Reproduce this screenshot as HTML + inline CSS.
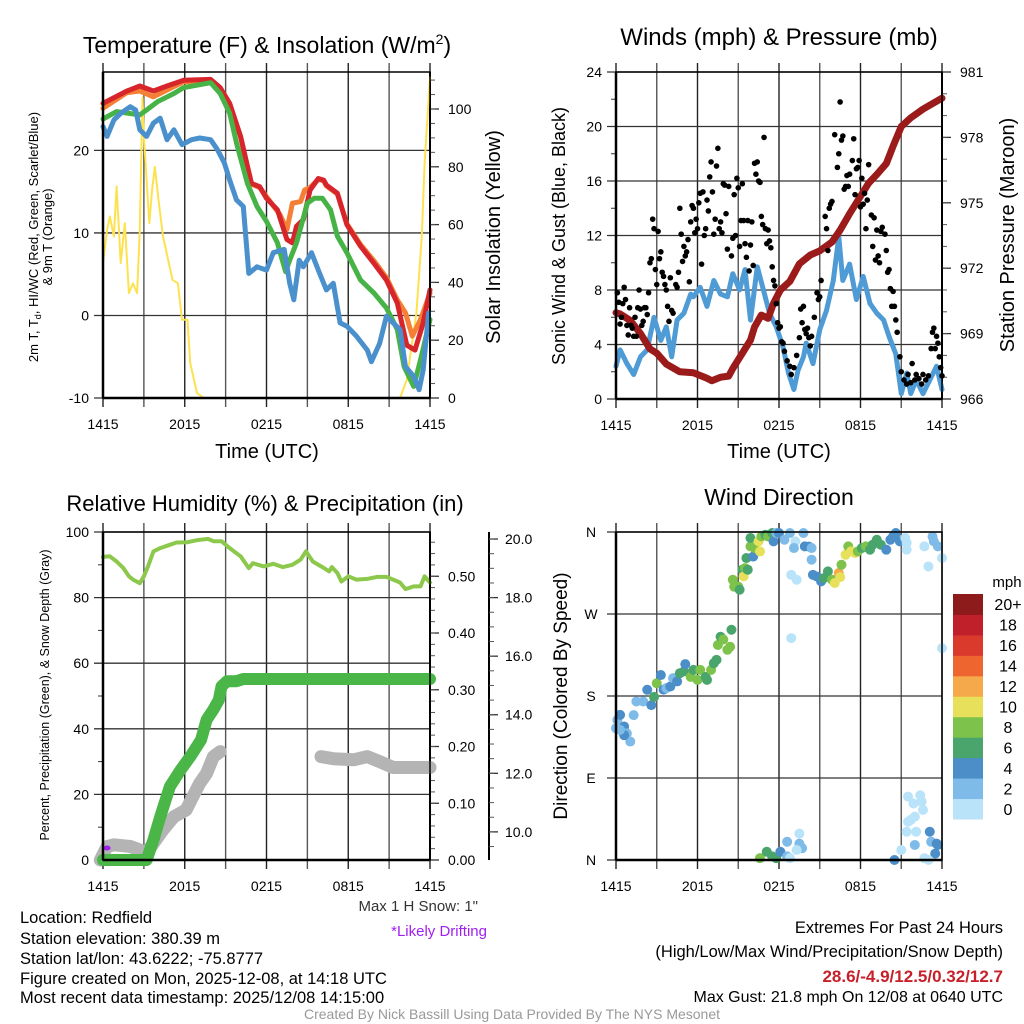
<!DOCTYPE html>
<html><head><meta charset="utf-8"><style>
html,body{margin:0;padding:0;background:#fff;}
svg{display:block;font-family:"Liberation Sans",sans-serif;}
</style></head><body>
<svg id="chart" width="1024" height="1024" viewBox="0 0 1024 1024" xmlns="http://www.w3.org/2000/svg">
<rect x="0" y="0" width="1024" height="1024" fill="#fff"/>
<text x="267" y="53" font-size="23" text-anchor="middle">Temperature (F) &amp; Insolation (W/m<tspan font-size="14" dy="-9">2</tspan><tspan dy="9">)</tspan></text>
<text x="779" y="45" font-size="24" text-anchor="middle">Winds (mph) &amp; Pressure (mb)</text>
<text x="265" y="511" font-size="22" text-anchor="middle">Relative Humidity (%) &amp; Precipitation (in)</text>
<text x="779" y="505" font-size="23" text-anchor="middle">Wind Direction</text>
<text transform="translate(38,237) rotate(-90)" font-size="13" text-anchor="middle">2m T, T<tspan font-size="9" dy="3">d</tspan><tspan dy="-3">, HI/WC (Red, Green, Scarlet/Blue)</tspan></text>
<text transform="translate(52,237) rotate(-90)" font-size="13" text-anchor="middle">&amp; 9m T (Orange)</text>
<text transform="translate(500,237) rotate(-90)" font-size="20" text-anchor="middle">Solar Insolation (Yellow)</text>
<text x="267" y="458" font-size="20" text-anchor="middle">Time (UTC)</text>
<text x="779" y="458" font-size="20" text-anchor="middle">Time (UTC)</text>
<text transform="translate(565,236) rotate(-90)" font-size="18" text-anchor="middle">Sonic Wind &amp; Gust (Blue, Black)</text>
<text transform="translate(1014,235) rotate(-90)" font-size="20" text-anchor="middle">Station Pressure (Maroon)</text>
<text transform="translate(49,695) rotate(-90)" font-size="12.5" text-anchor="middle">Percent, Precipitation (Green), &amp; Snow Depth (Gray)</text>
<text transform="translate(567,696) rotate(-90)" font-size="19" text-anchor="middle">Direction (Colored By Speed)</text>
<text x="478" y="911" font-size="15" text-anchor="end" fill="#333">Max 1 H Snow: 1"</text>
<text x="487" y="936" font-size="15" text-anchor="end" fill="#a020f0">*Likely Drifting</text>
<g font-size="16.5">
<text x="20" y="923">Location: Redfield</text>
<text x="20" y="944">Station elevation: 380.39 m</text>
<text x="20" y="964">Station lat/lon: 43.6222; -75.8777</text>
<text x="20" y="984">Figure created on Mon, 2025-12-08, at 14:18 UTC</text>
<text x="20" y="1003">Most recent data timestamp: 2025/12/08 14:15:00</text>
</g>
<g font-size="16.5" text-anchor="end">
<text x="1003" y="933">Extremes For Past 24 Hours</text>
<text x="1003" y="957">(High/Low/Max Wind/Precipitation/Snow Depth)</text>
<text x="1003" y="982" fill="#c8202a" font-weight="bold" font-size="17">28.6/-4.9/12.5/0.32/12.7</text>
<text x="1003" y="1002" font-size="16">Max Gust: 21.8 mph On 12/08 at 0640 UTC</text>
</g>
<text x="512" y="1019" font-size="14" text-anchor="middle" fill="#999">Created By Nick Bassill Using Data Provided By The NYS Mesonet</text>
</svg>
<script>
// ---------- DATA ----------
const xTickHours=[0,3,6,9,12,15,18,21,24];
const xTickLabels=["1415","","2015","","0215","","0815","","1415"];
// Panel 1
const tRedH=[0,1.76,2.7,3.7,4.7,5.9,7.9,8.6,9.3,10.1,10.6,10.9,11.5,12.0,12.8,13.5,13.9,14.2,14.7,15.2,15.8,16.2,16.4,17.2,17.9,18.9,19.9,20.8,21.6,22.3,22.9,23.5,24];
const tRedV=[25.7,27.2,27.8,27.2,27.8,28.5,28.6,27.6,25.7,21.7,18.1,16.0,15.6,14.2,12.8,9.2,8.8,10.8,11.6,15.2,16.6,16.4,15.8,14.8,11.0,8.4,6.3,4.3,1.5,-3.6,-4.2,-0.9,3.1];
const tOrgH=[0,1.76,2.7,3.7,5.9,7.9,8.6,9.3,10.1,10.6,10.9,11.5,12.0,12.5,13.0,13.5,13.9,14.5,14.8,15.2,15.8,16.2,16.4,17.2,17.9,18.9,19.9,20.8,21.6,22.2,22.7,23.3,24];
const tOrgV=[25.1,27.0,27.2,26.5,28.3,28.4,27.4,25.6,21.6,18.0,15.9,15.5,14.4,13.3,12.2,10.4,13.6,13.8,15.2,15.5,16.5,16.3,15.7,14.7,11.1,8.6,6.6,4.6,1.9,0.3,-2.5,-0.5,2.7];
const tGrnH=[0,1.0,2.7,3.2,4.0,5.2,5.9,7.9,8.6,9.3,9.8,10.6,11.3,12.0,12.8,13.4,13.7,14.2,15.0,15.5,16.1,16.7,17.2,17.9,18.9,19.9,20.8,21.6,22.1,22.8,23.3,24];
const tGrnV=[23.8,24.7,24.3,24.9,25.9,26.9,27.6,28.2,26.9,24.5,20.9,16.0,13.2,11.4,8.8,5.3,6.7,8.8,13.6,14.2,14.2,12.8,9.6,7.6,4.3,2.7,0.9,-1.7,-6.2,-8.6,-5.4,-0.5];
const tDewH=[0,0.3,0.8,1.3,2.0,2.4,2.7,3.2,3.7,4.2,4.7,5.2,5.8,6.5,7.1,7.9,8.4,8.9,9.3,9.8,10.3,10.7,11.3,12.0,12.5,13.3,13.7,14.0,14.4,14.7,15.3,15.9,16.4,16.9,17.4,17.9,18.6,19.4,19.7,20.3,20.8,21.3,21.8,22.2,22.8,23.2,23.5,23.9];
const tDewV=[22.9,21.7,23.7,24.5,25.3,24.9,22.5,21.7,23.3,23.9,21.3,22.5,20.7,21.3,21.5,21.3,20.1,18.5,16.4,14.0,13.2,5.1,5.9,5.5,7.6,8.0,3.9,1.9,6.7,5.9,7.6,5.1,3.1,3.9,-0.9,-1.3,-2.5,-4.2,-5.6,-3.4,-0.1,-0.9,-1.7,-6.2,-7.4,-9.0,-6.6,0.3];
const solarH=[0,0.3,0.5,0.8,1.0,1.3,1.6,1.9,2.2,2.5,2.7,2.9,3.0,3.4,3.6,3.8,4.1,4.4,5.1,5.5,5.8,6.2,6.4,6.9,7.4,21.8,22.3,23.0,23.4,23.6,24];
const solarV=[46.7,58.2,62.8,55.9,73.2,46.7,60.5,36.3,39.7,36.3,58.2,104,90.4,60.5,72,80,67.4,55.9,40.9,39.7,27.1,27.1,12.1,1.7,0,0,6.3,29.4,55.9,81.2,111];
// Panel 2
const windH=[0,0.3,0.8,1.3,1.8,2.3,2.8,3.3,3.7,4.1,4.5,5.0,5.5,5.7,6.2,6.7,7.2,7.7,8.2,8.6,9.1,9.5,9.9,10.4,10.8,11.3,11.8,12.3,12.7,13.1,13.4,13.8,14.0,14.5,15.0,15.5,16.0,16.4,16.7,17.2,17.7,18.2,18.7,19.2,19.7,20.1,20.6,21.0,21.4,21.7,22.1,22.6,23.1,23.6,24];
const windV=[2.4,3.6,2.6,1.8,3.1,3.6,6.0,4.3,5.3,3.1,5.8,6.3,7.7,7.5,8.2,6.8,8.7,7.7,7.5,9.2,8.0,9.5,5.8,9.7,8.2,6.3,5.3,3.8,1.9,0.7,2.1,3.1,4.1,2.6,5.1,6.5,8.7,11.9,8.7,9.9,7.3,9.0,7.0,6.3,5.8,4.6,3.3,0.4,1.9,0.4,1.4,0.4,1.4,2.4,0.7];
const gustH=[0.1,0.2,0.3,0.4,0.5,0.6,0.7,0.8,0.9,1.0,1.1,1.2,1.3,1.4,1.5,1.6,1.7,1.8,1.9,2.0,2.1,2.2,2.3,2.4,2.5,2.6,2.7,2.8,2.9,3.0,3.1,3.2,3.3,3.4,3.5,3.6,3.7,3.8,3.9,4.0,4.1,4.2,4.4,4.5,4.6,4.7,4.8,4.9,5.0,5.1,5.2,5.3,5.4,5.5,5.6,5.7,5.8,5.9,6.0,6.1,6.2,6.3,6.4,6.5,6.6,6.7,6.8,6.9,7.0,7.1,7.2,7.3,7.4,7.5,7.6,7.7,7.8,7.9,8.0,8.1,8.2,8.3,8.5,8.6,8.7,8.8,8.9,9.0,9.1,9.2,9.3,9.4,9.5,9.6,9.7,9.8,9.9,10.0,10.1,10.2,10.3,10.4,10.5,10.6,10.7,10.8,10.9,11.0,11.1,11.2,11.3,11.4,11.5,11.6,11.7,11.8,11.9,12.0,12.1,12.2,12.3,12.4,12.6,12.8,12.9,13.1,13.3,13.5,13.6,13.7,13.8,13.9,14.0,14.1,14.2,14.3,14.4,14.6,14.8,14.9,15.0,15.1,15.4,15.5,15.6,15.7,15.8,15.9,16.1,16.3,16.4,16.5,16.6,16.7,16.8,16.9,17.0,17.1,17.2,17.4,17.5,17.6,17.7,17.8,17.9,18.0,18.1,18.2,18.3,18.4,18.5,18.6,18.8,18.9,19.0,19.1,19.2,19.3,19.4,19.5,19.6,19.8,19.9,20.0,20.1,20.2,20.3,20.4,20.5,20.6,20.7,20.9,21.0,21.2,21.4,21.5,21.7,21.8,22.0,22.1,22.3,22.5,22.6,22.8,23.0,23.2,23.3,23.4,23.5,23.6,23.7,23.8,23.9,24.0];
const gustV=[7.8,7.1,5.5,6.0,7.0,8.2,7.3,5.4,4.7,6.7,5.4,5.2,4.6,6.0,4.6,6.7,8.0,6.6,5.4,5.7,6.7,6.7,6.2,7.8,10.0,10.3,13.2,12.5,9.5,8.4,12.3,10.3,10.8,9.3,9.0,8.4,8.0,6.8,5.7,8.9,6.5,6.3,8.4,8.2,9.3,14.0,12.1,10.1,11.2,10.5,10.8,11.7,8.6,13.0,14.2,14.0,12.2,13.2,12.5,14.4,15.1,9.9,15.2,12.0,12.5,14.6,13.8,16.3,17.4,15.2,12.1,13.2,17.1,18.4,12.5,13.0,12.2,15.8,15.7,13.6,11.0,15.6,10.5,11.8,15.0,12.0,16.2,15.5,11.2,13.1,15.8,13.1,11.4,10.4,13.1,9.4,11.3,13.0,9.8,17.3,16.5,17.4,16.0,15.9,13.4,12.8,19.2,12.5,11.4,12.4,11.6,11.1,9.7,8.7,8.3,7.0,5.6,5.2,5.3,4.2,4.1,3.5,2.8,2.4,1.8,2.3,3.2,4.5,6.6,5.6,6.8,5.1,4.8,5.2,4.5,3.9,4.6,6.0,7.8,7.3,7.5,8.7,13.4,12.5,10.9,14.0,14.3,14.5,19.4,17.0,18.0,21.8,19.0,19.3,15.4,15.6,16.4,15.6,16.5,17.5,19.1,15.0,16.9,17.0,17.5,14.1,16.2,14.3,15.1,12.5,14.6,17.2,13.5,11.2,13.3,10.2,12.4,10.5,10.0,12.3,12.6,12.1,10.9,9.3,9.5,8.1,6.8,7.9,6.8,5.8,4.9,3.1,2.0,1.4,1.1,1.8,1.2,2.6,1.4,1.8,1.5,1.1,1.8,1.4,1.7,3.7,4.9,5.2,3.7,4.6,4.1,3.1,2.3,1.7];
const presH=[0,0.3,1.05,1.8,2.5,3.0,3.7,4.7,5.7,6.7,7.05,7.7,8.3,8.6,9.1,9.9,10.2,10.7,11.2,11.6,12.1,12.8,13.5,14.3,15.0,15.9,16.5,17.2,18.0,18.6,19.2,19.9,20.4,21.0,21.7,22.6,23.3,24];
const presV=[969.96,969.9,969.6,969.0,968.3,968.1,967.6,967.25,967.2,966.95,966.84,967.0,967.05,967.4,967.9,968.7,969.3,969.85,969.7,970.4,971.0,971.4,972.2,972.6,972.8,973.2,973.75,974.5,975.3,975.9,976.3,976.8,977.6,978.5,978.9,979.3,979.55,979.8];
// Panel 3
const rhH=[0,0.5,1.0,1.5,1.9,2.2,2.7,3.0,3.3,3.7,4.2,4.9,5.4,6.2,6.9,7.7,8.1,8.7,9.3,10.1,10.7,11.0,11.8,12.5,13.2,13.9,14.5,14.9,15.4,16.1,16.6,16.8,17.2,17.5,18.0,18.6,19.4,20.1,20.8,21.3,21.8,22.2,22.8,23.3,23.6,24];
const rhV=[92.4,92.6,91.0,89.0,86.5,85.5,84.4,86.5,89.5,94.1,95.1,96.1,96.8,96.9,97.5,97.9,97.2,97.2,95.1,92.6,89.0,90.5,89.5,90.3,89.3,90.0,91.6,94.1,91.0,89.3,88.0,89.3,87.5,84.9,86.5,85.5,85.7,86.3,86.3,85.5,84.6,82.6,83.4,83.4,86.5,84.6];
const precipH=[0,3.2,3.7,4.2,4.9,5.7,6.4,7.2,7.6,8.1,8.5,8.7,9.1,9.8,10.3,24];
const precipV=[0,0,0.035,0.076,0.129,0.159,0.182,0.212,0.247,0.265,0.282,0.306,0.315,0.315,0.319,0.319];
const snowH=[-0.2,0.3,0.8,2.0,2.7,3.2,3.7,4.4,5.2,6.1,6.6,7.1,7.6,8.1,8.6,null,16.0,16.9,18.4,19.4,20.3,21.3,24];
const snowV=[9.04,9.50,9.56,9.50,9.38,9.28,9.61,10.07,10.52,10.75,11.21,11.66,12.00,12.57,12.74,null,12.57,12.5,12.46,12.57,12.40,12.2,12.2];
const driftH=[0.3];
const driftV=[9.45];
// Panel 4
const dirH=[0,0.1,0.3,0.6,0.8,1.05,0.6,0.3,1.3,1.5,2.0,2.3,2.6,2.8,3.0,3.3,3.5,3.7,4.0,4.2,4.5,4.7,5.0,5.1,5.5,5.7,6.0,6.2,6.6,6.7,7.0,7.2,7.4,7.5,7.7,7.9,8.2,8.4,8.5,8.6,8.7,9.0,9.1,9.3,9.4,9.5,9.7,9.6,9.9,9.9,10.1,10.2,10.5,10.6,10.7,11.0,11.2,11.5,11.6,11.8,12.0,12.4,12.8,13.2,13.1,13.8,13.9,14.2,14.4,14.4,12.9,13.3,12.9,14.5,14.8,15.1,15.3,15.6,15.9,16.1,16.4,16.5,16.6,16.9,17.1,17.3,17.6,17.8,18.1,18.4,18.7,18.9,19.2,19.5,19.9,20.2,20.4,20.6,20.9,21.3,21.4,21.4,22.7,23.0,23.3,23.4,23.7,24,24,10.6,11.1,11.5,11.8,12.1,12.6,12.6,12.8,13.5,13.5,13.7,13.3,20.5,21.0,21.4,21.7,21.5,22.0,22.1,21.5,21.9,22.4,22.5,22.6,22.0,23.1,23.2,23.5,23.6,23.7,22.7,23.0];
const dirDeg=[144.6,153.8,159.3,146.5,139,130,137,142.8,159,174,174,186.8,170,179,194,203,187,188.6,190.4,199.6,196,205,207,215,201,208.7,197.7,208.7,201,197.7,208.7,216,219.7,236,245,242,230.7,234,252.7,307.6,300,300,296.6,318.6,311.3,320.4,318.6,331.4,344.2,353.4,333,342.4,349.7,338.7,355.2,357,355,358.9,349.7,358.9,358.9,351.5,358.9,349.7,342.4,358.9,344.2,344,342.4,329.6,313,307.6,243.5,313,311,305.8,309.4,316.8,307.6,304,315,310.5,324,335,344.2,338.7,337,338.7,342.4,344.2,340.6,346,351.5,346,340.6,351.5,355.2,358.9,349.7,353.4,348,340.6,344.2,322.2,355,349.7,344.2,331.4,232.5,2,9,4,2,9,4,20,2,29,18,13,11,0,11,31,44,42,47.6,31,69.6,62,71,64,55,16.5,31,20,7,18,16.5,2,0];
const dirSpd=[3,3,5,5,3,3,5,3,3,3,3,5,5,7,9,5,5,3,5,3,5,7,7,5,9,7,9,9,7,7,9,7,7,9,7,9,9,9,7,9,9,9,7,7,11,9,7,7,9,7,5,9,11,11,9,7,9,7,5,3,5,3,3,1,3,3,5,5,3,3,1,1,1,5,5,5,7,7,9,11,13,11,9,11,9,11,11,9,7,9,7,7,7,7,5,5,5,5,5,1,1,1,1,1,3,3,3,1,1,9,7,7,7,5,3,3,1,1,3,3,1,5,1,1,1,1,1,1,1,1,1,1,1,3,5,3,5,5,5,1,1];
const cbarLabels=["0","2","4","6","8","10","12","14","16","18","20+"];
const cbarColors=["#b9e3f9","#7fbbe8","#4b8ec8","#4aa56c","#7dc34b","#e6e05a","#f6a94a","#ef6530","#d93a2b","#c0202a","#8e1b1b"];

// ---------- DRAWING ----------
const NS='http://www.w3.org/2000/svg';
const svg=document.getElementById('chart');
function mk(tag,attrs,parent){const e=document.createElementNS(NS,tag);for(const k in attrs)e.setAttribute(k,attrs[k]);(parent||svg).appendChild(e);return e;}
function lin(d0,d1,r0,r1){return v=>r0+(v-d0)*(r1-r0)/(d1-d0);}
function pathD(hs,vs,sx,sy){let d='',pen=false;for(let i=0;i<hs.length;i++){if(hs[i]===null||vs[i]===null){pen=false;continue;}d+=(pen?'L':'M')+sx(hs[i]).toFixed(1)+' '+sy(vs[i]).toFixed(1);pen=true;}return d;}

function frame(p,name){
  const g=mk('g',{});
  
  
  const sx=lin(0,24,p.x0,p.x1);
  xTickHours.forEach((h,i)=>{
    const x=sx(h);
    const ln=mk('line',{x1:x,x2:x,y1:p.y0-9,y2:p.y1+9,stroke:(i%2?'#555':'#222'),'stroke-width':1.4},g);
    
    
    if(xTickLabels[i]){
      const t=mk('text',{x:x,y:p.y1+31,'font-size':14,'text-anchor':'middle'},g);
      t.textContent=xTickLabels[i];
      
      
    }
  });
  return {g,sx};
}
function hgrid(p,g,sy,vals,labels,minor){
  vals.forEach((v,i)=>{
    const y=sy(v);
    const ln=mk('line',{x1:p.x0-9,x2:p.x1,y1:y,y2:y,stroke:'#333','stroke-width':1.3},g);
    
    
    const t=mk('text',{x:p.lx!==undefined?p.lx:p.x0-14,y:y+5,'font-size':14,'text-anchor':p.lx!==undefined?'middle':'end'},g);
    t.textContent=labels[i];
    
    
  });
  (minor||[]).forEach(v=>{
    const y=sy(v);
    const ln=mk('line',{x1:p.x0-5,x2:p.x0,y1:y,y2:y,stroke:'#333','stroke-width':1},g);
    
    
  });
}
function rightAxis(x,y0,y1,sy,majors,labels,minors,g,lx){
  const ax=mk('line',{x1:x,x2:x,y1:y0,y2:y1,stroke:'#000','stroke-width':2},g);
  
  
  majors.forEach((v,i)=>{
    const y=sy(v);
    const ln=mk('line',{x1:x,x2:x+9,y1:y,y2:y,stroke:'#333','stroke-width':1.3},g);
    
    
    const t=mk('text',{x:x+lx,y:y+5,'font-size':14},g);
    t.textContent=labels[i];
    
    
  });
  minors.forEach(v=>{
    const y=sy(v);
    const ln=mk('line',{x1:x,x2:x+5,y1:y,y2:y,stroke:'#555','stroke-width':1},g);
    
    
  });
}
function box(p,g){
  const r=mk('rect',{x:p.x0,y:p.y0,width:p.x1-p.x0,height:p.y1-p.y0,fill:'none',stroke:'#000','stroke-width':1.5},g);
  
  
  const b=mk('line',{x1:p.x0,x2:p.x1,y1:p.y1,y2:p.y1,stroke:'#000','stroke-width':2.5},g);
  
  
  const l=mk('line',{x1:p.x0,x2:p.x0,y1:p.y0,y2:p.y1,stroke:'#000','stroke-width':2.5},g);
  
  
}
function series(d,color,w,name,parent,cap){
  const e=mk('path',{d:d,fill:'none',stroke:color,'stroke-width':w,'stroke-linejoin':'round','stroke-linecap':cap||'round'},parent);
  
  
  return e;
}
function range(a,b,s){const r=[];for(let v=a;v<=b+1e-9;v+=s)r.push(+v.toFixed(4));return r;}

// Panel 1
{
  const p={x0:103,x1:430,y0:72,y1:398};
  const {g,sx}=frame(p,'temp');
  const sy=lin(-10,29.5,p.y1,p.y0);
  const sr=lin(0,112.8,p.y1,p.y0);
  hgrid(p,g,sy,[-10,0,10,20],["-10","0","10","20"]);
  rightAxis(p.x1,p.y0,p.y1,sr,[0,20,40,60,80,100],["0","20","40","60","80","100"],range(5,110,5),g,18);
  series(pathD(solarH,solarV,sx,sr),'#fde24f',2,'solar-insolation-line',g);
  series(pathD(tOrgH,tOrgV,sx,sy),'#f47f35',5,'temp-9m-line',g);
  series(pathD(tRedH,tRedV,sx,sy),'#d7262b',5,'temp-2m-line',g);
  series(pathD(tGrnH,tGrnV,sx,sy),'#47b347',5,'windchill-line',g);
  series(pathD(tDewH,tDewV,sx,sy),'#4a90cd',5,'dewpoint-line',g);
  box(p,g);
}
// Panel 2
{
  const p={x0:616,x1:942,y0:72,y1:399};
  const {g,sx}=frame(p,'wind');
  const sy=lin(0,24,p.y1,p.y0);
  const sr=lin(966,981,p.y1,p.y0);
  hgrid(p,g,sy,[0,4,8,12,16,20,24],["0","4","8","12","16","20","24"],[2,6,10,14,18,22]);
  rightAxis(p.x1,p.y0,p.y1,sr,[966,969,972,975,978,981],["966","969","972","975","978","981"],range(967,980,1),g,18);
  series(pathD(windH,windV,sx,sy),'#4f9bd6',5,'sonic-wind-line',g);
  series(pathD(presH,presV,sx,sr),'#9b1b1b',7,'pressure-line',g);
  const dg=mk('g',{},g);
  
  
  gustH.forEach((h,i)=>{
    const c=mk('circle',{cx:sx(h),cy:sy(gustV[i]),r:2.8,fill:'#000'},dg);
    
    
  });
  box(p,g);
}
// Panel 3
{
  const p={x0:103,x1:430,y0:532,y1:860};
  const {g,sx}=frame(p,'rh');
  const sy=lin(0,100,p.y1,p.y0);
  const sp=lin(0,0.578,p.y1,p.y0);
  const ss=lin(9.04,20.24,p.y1,p.y0);
  hgrid(p,g,sy,[0,20,40,60,80,100],["0","20","40","60","80","100"],[10,30,50,70,90]);
  rightAxis(p.x1,p.y0,p.y1,sp,[0,0.1,0.2,0.3,0.4,0.5],["0.00","0.10","0.20","0.30","0.40","0.50"],range(0.02,0.56,0.02),g,18);
  rightAxis(489,p.y0,p.y1,ss,[10,12,14,16,18,20],["10.0","12.0","14.0","16.0","18.0","20.0"],range(9.5,20,0.5),g,16);
  series(pathD(snowH,snowV,sx,ss),'#b4b4b4',13,'snow-depth-line',g);
  series(pathD(precipH,precipV,sx,sp),'#4ab648',12,'precip-line',g);
  series(pathD(rhH,rhV,sx,sy),'#8cc84b',4,'rh-line',g);
  driftH.forEach((h,i)=>{
    const e=mk('ellipse',{cx:sx(h),cy:ss(driftV[i]),rx:3.5,ry:2.5,fill:'#a020f0'},g);
    
    
  });
  box(p,g);
}
// Panel 4
{
  const p={x0:616,x1:942,y0:532,y1:860,lx:591};
  const {g,sx}=frame(p,'dir');
  const sy=lin(0,360,p.y1,p.y0);
  hgrid(p,g,sy,[0,90,180,270,360],["N","E","S","W","N"]);
  const dg=mk('g',{},g);
  
  
  dirH.forEach((h,i)=>{
    const bin=Math.max(0,Math.min(10,Math.floor(dirSpd[i]/2)));
    const c=mk('circle',{cx:sx(h),cy:sy(dirDeg[i]),r:5,fill:cbarColors[bin]},dg);
    
    
  });
  box(p,g);
  const cb=mk('g',{});
  
  
  const cy0=594,cy1=819,bh=(cy1-cy0)/cbarColors.length;
  cbarColors.forEach((c,i)=>{
    const y=cy1-(i+1)*bh;
    const r=mk('rect',{x:953,y:y,width:30,height:bh+0.5,fill:c},cb);
    
    
    const t=mk('text',{x:1008,y:y+bh/2+6,'font-size':16,'text-anchor':'middle'},cb);
    t.textContent=cbarLabels[i];
    
    
  });
  const u=mk('text',{x:1007,y:587,'font-size':15,'text-anchor':'middle'},cb);
  u.textContent='mph';
  
  
}
</script>
</body></html>
